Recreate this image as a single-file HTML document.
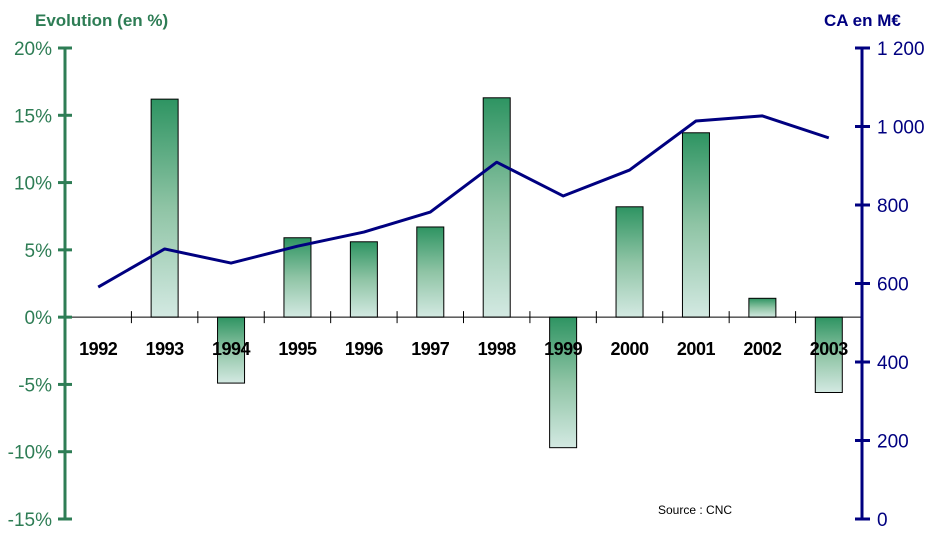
<!DOCTYPE html>
<html><head><meta charset="utf-8"><style>
body{margin:0;background:#fff}
svg{display:block;font-family:"Liberation Sans",sans-serif}
</style></head><body>
<svg width="933" height="545" viewBox="0 0 933 545">
<defs>
<linearGradient id="g" x1="0" y1="0" x2="0" y2="1">
<stop offset="0" stop-color="#2e9462"/><stop offset="0.5" stop-color="#8fc4a5"/><stop offset="1" stop-color="#d3e9e2"/>
</linearGradient>
</defs>
<text x="35" y="26" font-size="17" font-weight="bold" fill="#2e7d55">Evolution (en %)</text>
<text x="824" y="26" font-size="17" font-weight="bold" fill="#000080">CA en M€</text>
<text x="658" y="514" font-size="12" fill="#000">Source : CNC</text>
<g id="bars"></g>
<g id="axes"></g>
<g id="line"></g>
</svg>
<script>
const years=["1992","1993","1994","1995","1996","1997","1998","1999","2000","2001","2002","2003"];
const evolution=[0,16.2,-4.9,5.9,5.6,6.7,16.3,-9.7,8.2,13.7,1.4,-5.6];
const ca=[591,688,652,695,731,782,909,823,889,1014,1027,971];
const leftTicks=[20,15,10,5,0,-5,-10,-15];
const rightTicks=[1200,1000,800,600,400,200,0];
const rightLabels=["1 200","1 000","800","600","400","200","0"];
const NS="http://www.w3.org/2000/svg";
const X0=65,X1=862,Y20=48,Ym15=519;
const yL=v=>Y20+(20-v)*(Ym15-Y20)/35;
const yR=v=>Ym15-v*(Ym15-Y20)/1200;
const bw=(X1-X0)/years.length;
const xc=i=>X0+bw*(i+0.5);
function mk(tag,attrs,parent){const e=document.createElementNS(NS,tag);for(const k in attrs)e.setAttribute(k,attrs[k]);parent.appendChild(e);return e;}
const gb=document.getElementById('bars'),ga=document.getElementById('axes'),gl=document.getElementById('line');
evolution.forEach((v,i)=>{if(v===0)return;
 const y0=yL(0),y1=yL(v);
 const r=mk('rect',{x:xc(i)-13.5,y:Math.min(y0,y1),width:27,height:Math.abs(y1-y0),fill:'url(#g)',stroke:'#000','stroke-width':1},gb);
 
 
});
// category axis
const ca0=mk('line',{x1:X0,x2:X1,y1:yL(0),y2:yL(0),stroke:'#000','stroke-width':1},ga);


for(let i=1;i<years.length;i++){mk('line',{x1:X0+bw*i,x2:X0+bw*i,y1:yL(0)-6,y2:yL(0)+6,stroke:'#000','stroke-width':1},ga);}
years.forEach((y,i)=>{const t=mk('text',{x:xc(i),y:355,'text-anchor':'middle','font-size':18,'font-weight':'bold',fill:'#000','letter-spacing':'-0.5'},ga);t.textContent=y;
 
 });
// left axis
const la=mk('line',{x1:X0,x2:X0,y1:Y20,y2:Ym15,stroke:'#2e7d55','stroke-width':3},ga);


leftTicks.forEach(v=>{mk('line',{x1:58,x2:72,y1:yL(v),y2:yL(v),stroke:'#2e7d55','stroke-width':3},ga);
 const t=mk('text',{x:52,y:yL(v)+7,'text-anchor':'end','font-size':19,fill:'#2e7d55'},ga);t.textContent=v+'%';
 
 });
// right axis
const ra=mk('line',{x1:X1,x2:X1,y1:Y20,y2:Ym15,stroke:'#000080','stroke-width':3},ga);


rightTicks.forEach((v,i)=>{mk('line',{x1:855,x2:870,y1:yR(v),y2:yR(v),stroke:'#000080','stroke-width':3},ga);
 const t=mk('text',{x:877,y:yR(v)+7,'font-size':19,fill:'#000080'},ga);t.textContent=rightLabels[i];
 
 });
// line
const p=mk('polyline',{points:ca.map((v,i)=>xc(i)+','+yR(v)).join(' '),fill:'none',stroke:'#000080','stroke-width':3,'stroke-linejoin':'round'},gl);


</script>
</body></html>
